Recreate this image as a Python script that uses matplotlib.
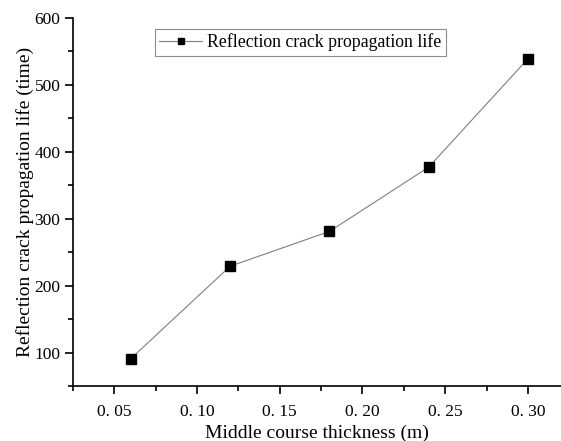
import matplotlib
matplotlib.use("Agg")
import matplotlib.pyplot as plt
from matplotlib.ticker import MultipleLocator, FixedLocator, FixedFormatter

plt.rcParams['font.family'] = ['Liberation Serif', 'DejaVu Serif']

# data
thickness = [0.06, 0.12, 0.18, 0.24, 0.30]
life = [91, 229, 281, 377, 539]
xticks = [0.05, 0.10, 0.15, 0.20, 0.25, 0.30]
xticklabels = ['0. 05', '0. 10', '0. 15', '0. 20', '0. 25', '0. 30']

fig = plt.figure(figsize=(5.61, 4.41), dpi=100)
ax = fig.add_axes([73 / 561, 1 - 386 / 441, 1 - 73 / 561, (386 - 18) / 441])

ax.plot(thickness, life, color='#7f7f7f', lw=0.8, marker='s', ms=6.5,
        mfc='black', mec='black', label='Reflection crack propagation life')

ax.set_xlim(0.025, 0.32)
ax.set_ylim(50, 600)
ax.xaxis.set_major_locator(FixedLocator(xticks))
ax.xaxis.set_major_formatter(FixedFormatter(xticklabels))
ax.xaxis.set_minor_locator(MultipleLocator(0.025))
ax.yaxis.set_major_locator(MultipleLocator(100))
ax.yaxis.set_minor_locator(MultipleLocator(50))

ax.spines['top'].set_visible(False)
ax.spines['right'].set_visible(False)
for s in ['left', 'bottom']:
    ax.spines[s].set_linewidth(1.2)
ax.tick_params(which='major', direction='out', length=6, width=1.2, labelsize=12.5)
ax.tick_params(which='minor', direction='out', length=3.5, width=1.2)
ax.tick_params(axis='x', pad=7)
ax.tick_params(axis='y', pad=3)

ax.set_xlabel('Middle course thickness (m)', fontsize=14, labelpad=3)
ax.set_ylabel('Reflection crack propagation life (time)', fontsize=14, labelpad=0)

leg = ax.legend(loc='upper left', bbox_to_anchor=(0.168, 0.97), fontsize=12.8,
                fancybox=False, framealpha=1, edgecolor='#8c8c8c',
                handlelength=2.4, borderpad=0.25, handletextpad=0.3,
                markerscale=0.75, borderaxespad=0)
leg.get_frame().set_linewidth(0.8)

fig.savefig('out.png', dpi=100)
